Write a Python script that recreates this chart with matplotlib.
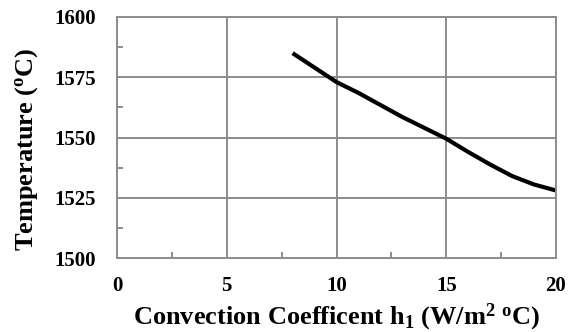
import numpy as np
import matplotlib; matplotlib.use('Agg')
import matplotlib.pyplot as plt
from matplotlib.ticker import MultipleLocator

plt.rcParams['font.family'] = 'Liberation Serif'
plt.rcParams['font.weight'] = 'bold'
plt.rcParams['axes.labelweight'] = 'bold'
plt.rcParams['mathtext.fontset'] = 'custom'
plt.rcParams['mathtext.rm'] = 'Liberation Serif:bold'
plt.rcParams['mathtext.it'] = 'Liberation Serif:bold'
plt.rcParams['mathtext.bf'] = 'Liberation Serif:bold'

h1 = [8, 9, 10, 11, 12, 13, 14, 15, 16, 17, 18, 19, 20]
temp = [1585, 1579, 1573, 1568.5, 1563.5, 1558.5, 1554, 1549.5, 1544, 1538.8, 1534, 1530.5, 1528]

fig = plt.figure(figsize=(5.74, 3.32), dpi=100)
ax = fig.add_axes([117/574, 1-258/332, 439/574, 241/332])
gc = '#8c8c8c'
ax.plot(h1, temp, color='black', lw=3, solid_capstyle='butt', solid_joinstyle='round')
ax.set_xlim(0, 20); ax.set_ylim(1500, 1600)
ax.xaxis.set_major_locator(MultipleLocator(5)); ax.xaxis.set_minor_locator(MultipleLocator(2.5))
ax.yaxis.set_major_locator(MultipleLocator(25)); ax.yaxis.set_minor_locator(MultipleLocator(12.5))
ax.grid(which='major', color=gc, lw=1.4)
for s in ax.spines.values():
    s.set_color(gc); s.set_linewidth(1.4)
ax.tick_params(which='major', length=0, labelsize=15)
ax.tick_params(which='minor', direction='in', length=4, color=gc, width=1.4)
ax.tick_params(axis='x', which='major', pad=13)
ax.tick_params(axis='y', which='major', pad=15)
ax.set_xlabel(r'Convection Coefficent h$_{1}$ (W/m$^{2}$ $^{o}$C)', fontsize=19, fontweight='bold', labelpad=4)
ax.set_ylabel(r'Temperature ($^{o}$C)', fontsize=19, fontweight='bold')
ax.yaxis.set_label_coords(-0.175, 0.452)
fig.savefig('out.png', dpi=100)
